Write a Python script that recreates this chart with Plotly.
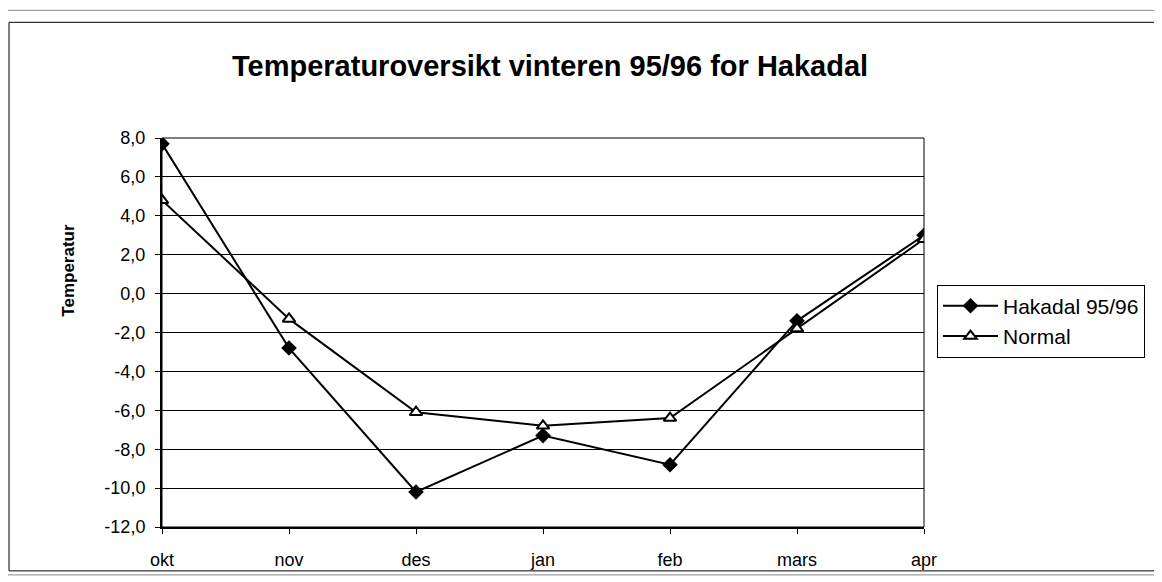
import plotly.graph_objects as go

months = ["okt", "nov", "des", "jan", "feb", "mars", "apr"]
hakadal = [7.7, -2.8, -10.2, -7.3, -8.8, -1.4, 3.0]
normal = [4.8, -1.3, -6.1, -6.8, -6.4, -1.8, 2.8]
y_ticks = [8, 6, 4, 2, 0, -2, -4, -6, -8, -10, -12]
y_labels = ["8,0", "6,0", "4,0", "2,0", "0,0", "-2,0", "-4,0", "-6,0", "-8,0", "-10,0", "-12,0"]

fig = go.Figure()
fig.add_trace(go.Scatter(
    x=months, y=hakadal, name="Hakadal 95/96", mode="lines+markers",
    line=dict(color="black", width=2),
    marker=dict(symbol="diamond", size=12, color="black")))
fig.add_trace(go.Scatter(
    x=months, y=normal, name="Normal", mode="lines+markers",
    line=dict(color="black", width=2),
    marker=dict(symbol="triangle-up", size=11, color="white",
                line=dict(color="black", width=2))))

# page has an 8px body margin, so the figure is shifted; plot area should
# land on screen at 162..924 x 138..528
W, H = 762, 390
def px(x): return (x - 162) / W
def py(y): return (528 - y) / H

fig.update_layout(
    width=1154, height=574,
    margin=dict(l=154, r=238, t=130, b=46),
    paper_bgcolor="white", plot_bgcolor="white",
    font=dict(family="Liberation Sans, Arial", size=18, color="black"),
    showlegend=True,
    legend=dict(x=px(937), y=py(285), xanchor="left", yanchor="top",
                bordercolor="black", borderwidth=1, bgcolor="white",
                font=dict(size=21), itemwidth=55, tracegroupgap=0),
    shapes=[
        dict(type="rect", xref="paper", yref="paper",
             x0=px(5), x1=px(1158), y0=py(576), y1=py(10),
             line=dict(color="#888", width=1)),
        dict(type="rect", xref="paper", yref="paper",
             x0=px(9), x1=px(1155), y0=py(572), y1=py(22),
             line=dict(color="black", width=1)),
        dict(type="rect", xref="paper", yref="paper",
             x0=0, x1=1, y0=0, y1=1, line=dict(color="black", width=1)),
    ],
    annotations=[
        dict(text="<b>Temperaturoversikt vinteren 95/96 for Hakadal</b>",
             xref="paper", yref="paper", x=px(550), y=py(66),
             xanchor="center", yanchor="middle",
             showarrow=False, font=dict(size=29)),
        dict(text="<b>Temperatur</b>", textangle=-90,
             xref="paper", yref="paper", x=px(69), y=py(271),
             xanchor="center", yanchor="middle",
             showarrow=False, font=dict(size=17)),
    ],
)
fig.update_xaxes(
    range=[0, 6], showgrid=False, showline=True, linecolor="black", linewidth=2,
    ticks="outside", ticklen=5, tickcolor="black", tickfont=dict(size=18),
    ticklabelstandoff=10, zeroline=False)
fig.update_yaxes(
    range=[-12, 8], tickvals=y_ticks, ticktext=y_labels,
    showgrid=True, gridcolor="black", gridwidth=1,
    showline=True, linecolor="black", linewidth=2,
    ticks="outside", ticklen=5, tickcolor="black", tickfont=dict(size=18),
    ticklabelstandoff=6, zeroline=False)

fig.write_html("out.html")
